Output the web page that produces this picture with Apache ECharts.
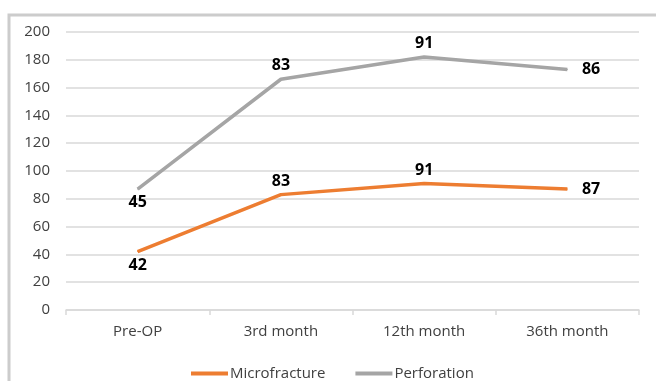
<!DOCTYPE html>
<html>
<head>
<meta charset="utf-8">
<script src="https://cdn.jsdelivr.net/npm/echarts@6/dist/echarts.min.js"></script>
<style>
  html, body { margin: 0; padding: 0; background: #fff; }
  #chart { width: 656px; height: 381px; }
</style>
</head>
<body>
<div id="chart"></div>
<script>
// Follow-up time points
const categories = ['Pre-OP', '3rd month', '12th month', '36th month'];
// Scores per technique (Perforation is stacked on top of Microfracture)
const microfracture = [42, 83, 91, 87];
const perforation = [45, 83, 91, 86];
// Value axis range
const yMin = 0, yMax = 200, yStep = 20;

const font = '"Open Sans", "Noto Sans", sans-serif';

function labelFor(p) {
  return {
    show: true,
    position: p,
    distance: p === 'right' ? 14 : 5,
    color: '#000',
    fontWeight: 'bold',
    fontSize: 16,
    fontFamily: font
  };
}

function buildData(values, positions) {
  return values.map((v, i) => ({ value: v, label: labelFor(positions[i]) }));
}

const chart = echarts.init(document.getElementById('chart'));
chart.setOption({
  animation: false,
  backgroundColor: '#fff',
  graphic: [{
    type: 'rect',
    shape: { x: 9, y: 15, width: 700, height: 420 },
    style: { fill: 'none', stroke: '#cccccc', lineWidth: 3 },
    silent: true
  }],
  grid: { left: 66, right: 17, top: 32, bottom: 71 },
  legend: {
    left: 186,
    top: 361,
    itemWidth: 37,
    itemHeight: 4,
    itemGap: 30,
    icon: 'rect',
    textStyle: { color: '#404040', fontSize: 15, fontFamily: font, padding: [0, 0, 0, -3] },
    data: ['Microfracture', 'Perforation']
  },
  xAxis: {
    type: 'category',
    data: categories,
    boundaryGap: true,
    axisLine: { lineStyle: { color: '#d9d9d9', width: 1.5 } },
    axisTick: { show: true, length: 5, lineStyle: { color: '#d9d9d9', width: 1.5 } },
    axisLabel: { color: '#404040', fontSize: 15, fontFamily: font, margin: 14 }
  },
  yAxis: {
    type: 'value',
    min: yMin,
    max: yMax,
    interval: yStep,
    axisLine: { show: false },
    axisTick: { show: false },
    splitLine: { lineStyle: { color: '#d9d9d9', width: 1.5 } },
    axisLabel: { color: '#404040', fontSize: 15, fontFamily: font, margin: 16 }
  },
  series: [
    {
      name: 'Microfracture',
      type: 'line',
      stack: 'total',
      symbol: 'circle',
      symbolSize: 1,
      showSymbol: true,
      lineStyle: { color: '#ED7D31', width: 3.5 },
      itemStyle: { color: '#ED7D31' },
      data: buildData(microfracture, ['bottom', 'top', 'top', 'right'])
    },
    {
      name: 'Perforation',
      type: 'line',
      stack: 'total',
      symbol: 'circle',
      symbolSize: 1,
      showSymbol: true,
      lineStyle: { color: '#A5A5A5', width: 3.5 },
      itemStyle: { color: '#A5A5A5' },
      data: buildData(perforation, ['bottom', 'top', 'top', 'right'])
    }
  ]
});
</script>
</body>
</html>
